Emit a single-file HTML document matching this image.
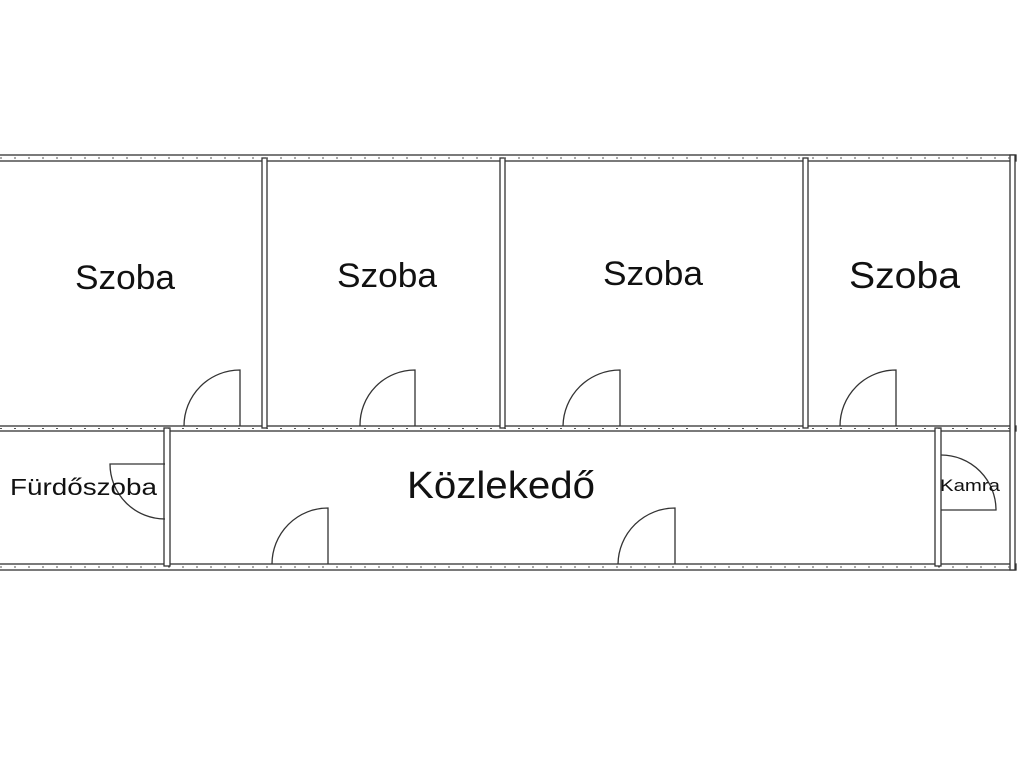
<!DOCTYPE html>
<html><head><meta charset="utf-8"><style>
html,body{margin:0;padding:0;background:#fff;}
svg{display:block}
text{font-family:"Liberation Sans",sans-serif;fill:#111;}
</style></head><body>
<svg width="1024" height="768" viewBox="0 0 1024 768" xmlns="http://www.w3.org/2000/svg">
<rect width="1024" height="768" fill="#fff"/>
<g fill="#fff" stroke="#333" stroke-width="1.3">
<rect x="-5" y="155" width="1021" height="6"/>
<rect x="-5" y="426" width="1021" height="5"/>
<rect x="-5" y="564" width="1021" height="6"/>
<rect x="1010" y="155" width="5" height="415"/>
<rect x="262" y="158" width="5" height="270"/>
<rect x="500" y="158" width="5" height="270"/>
<rect x="803" y="158" width="5" height="270"/>
<rect x="164" y="428" width="6" height="138"/>
<rect x="935" y="428" width="6" height="138"/>
</g>
<g stroke="#555" stroke-width="1" stroke-dasharray="2 12">
<line x1="0" y1="158" x2="1012" y2="158"/>
<line x1="0" y1="428.5" x2="1012" y2="428.5"/>
<line x1="0" y1="567" x2="1012" y2="567"/>
</g>
<g fill="#fff" stroke="none">
<rect x="165.5" y="465" width="3" height="54"/>
<rect x="936.5" y="456" width="3" height="54"/>
</g>
<g fill="none" stroke="#333" stroke-width="1.3">
<path d="M240 426 V370 A56 56 0 0 0 184 426"/>
<path d="M415 426 V370 A55 55 0 0 0 360 426"/>
<path d="M620 426 V370 A57 57 0 0 0 563 426"/>
<path d="M896 426 V370 A56 56 0 0 0 840 426"/>
<path d="M328 564 V508 A56 56 0 0 0 272 564"/>
<path d="M675 564 V508 A57 57 0 0 0 618 564"/>
<path d="M165 464 H110 A55 55 0 0 0 165 519"/>
<path d="M941 510 H996 A55 55 0 0 0 941 455"/>
</g>
<text x="75" y="289" font-size="34" textLength="100" lengthAdjust="spacingAndGlyphs">Szoba</text>
<text x="337" y="287" font-size="34" textLength="100" lengthAdjust="spacingAndGlyphs">Szoba</text>
<text x="603" y="285" font-size="34" textLength="100" lengthAdjust="spacingAndGlyphs">Szoba</text>
<text x="849" y="288" font-size="37" textLength="111" lengthAdjust="spacingAndGlyphs">Szoba</text>
<text x="407" y="498" font-size="38" textLength="188" lengthAdjust="spacingAndGlyphs">Közlekedő</text>
<text x="10" y="495" font-size="23" textLength="147" lengthAdjust="spacingAndGlyphs">Fürdőszoba</text>
<text x="940" y="491" font-size="17" textLength="60" lengthAdjust="spacingAndGlyphs">Kamra</text>
</svg>
</body></html>
